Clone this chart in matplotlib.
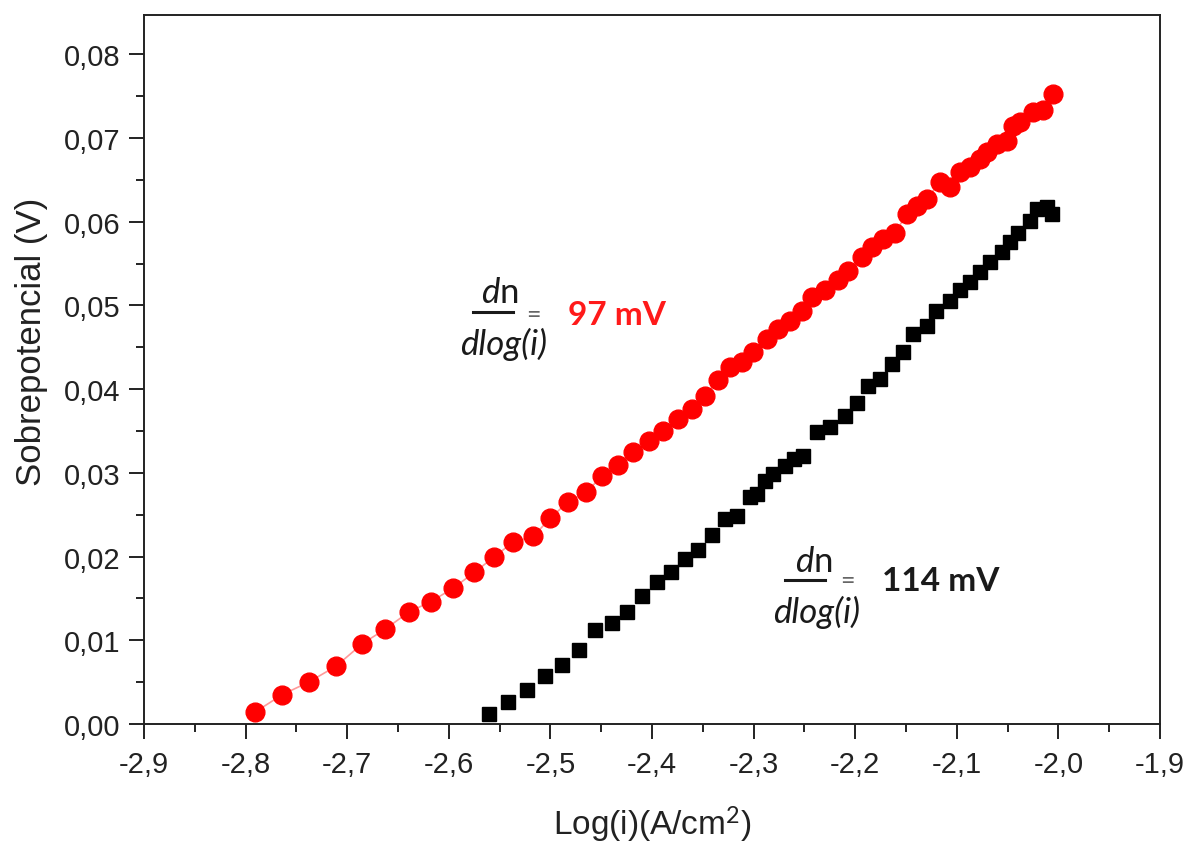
import matplotlib
matplotlib.use('Agg')
import matplotlib.pyplot as plt
from matplotlib.lines import Line2D
from matplotlib.ticker import FuncFormatter, MultipleLocator

# red circles (data in Log(i), V)
red_x = [-2.791, -2.764, -2.738, -2.711, -2.685, -2.663, -2.639, -2.618, -2.596, -2.575,
         -2.556, -2.537, -2.517, -2.500, -2.483, -2.465, -2.449, -2.433, -2.419, -2.403,
         -2.389, -2.374, -2.361, -2.348, -2.335, -2.323, -2.311, -2.301, -2.287, -2.276,
         -2.264, -2.252, -2.243, -2.230, -2.217, -2.207, -2.193, -2.183, -2.173, -2.161,
         -2.149, -2.139, -2.129, -2.117, -2.107, -2.097, -2.087, -2.077, -2.070, -2.060,
         -2.051, -2.045, -2.038, -2.025, -2.015, -2.005]
red_y = [0.0014, 0.0035, 0.0050, 0.0069, 0.0096, 0.0113, 0.0134, 0.0146, 0.0162, 0.0181,
         0.0199, 0.0217, 0.0224, 0.0246, 0.0265, 0.0277, 0.0296, 0.0309, 0.0325, 0.0338,
         0.0350, 0.0364, 0.0376, 0.0392, 0.0411, 0.0427, 0.0433, 0.0445, 0.0460, 0.0472,
         0.0481, 0.0493, 0.0510, 0.0519, 0.0531, 0.0541, 0.0558, 0.0570, 0.0579, 0.0587,
         0.0609, 0.0619, 0.0627, 0.0648, 0.0642, 0.0660, 0.0666, 0.0675, 0.0683, 0.0693,
         0.0696, 0.0714, 0.0719, 0.0731, 0.0734, 0.0753]

# black squares
blk_x = [-2.560, -2.542, -2.523, -2.505, -2.489, -2.472, -2.456, -2.439, -2.425, -2.410,
         -2.395, -2.381, -2.368, -2.355, -2.341, -2.328, -2.316, -2.304, -2.297, -2.289,
         -2.281, -2.269, -2.260, -2.251, -2.238, -2.225, -2.210, -2.198, -2.187, -2.176,
         -2.164, -2.153, -2.143, -2.129, -2.120, -2.107, -2.097, -2.087, -2.077, -2.067,
         -2.056, -2.048, -2.040, -2.028, -2.021, -2.011, -2.006]
blk_y = [0.0012, 0.0026, 0.0041, 0.0057, 0.0070, 0.0088, 0.0112, 0.0121, 0.0134, 0.0153,
         0.0170, 0.0181, 0.0197, 0.0208, 0.0226, 0.0245, 0.0248, 0.0271, 0.0275, 0.0290,
         0.0299, 0.0308, 0.0316, 0.0320, 0.0349, 0.0355, 0.0368, 0.0384, 0.0404, 0.0412,
         0.0430, 0.0444, 0.0466, 0.0475, 0.0493, 0.0505, 0.0519, 0.0528, 0.0540, 0.0552,
         0.0564, 0.0576, 0.0587, 0.0601, 0.0615, 0.0618, 0.0609]

W, H = 1189, 845


def px(x, y):
    return x / W, 1 - y / H


plt.rcParams['font.family'] = 'Liberation Sans'
plt.rcParams['mathtext.fontset'] = 'custom'
plt.rcParams['mathtext.rm'] = 'Lato'
plt.rcParams['mathtext.it'] = 'Lato:italic'

fig = plt.figure(figsize=(W / 100, H / 100), dpi=100)
ax = fig.add_axes([144 / W, 120 / H, 1016 / W, 709 / H])

ax.plot(red_x, red_y, '-', color='#ff9a9a', lw=1.2, marker='o', ms=13.5,
        mfc='#ff0000', mec='#ff0000')
ax.plot(blk_x, blk_y, linestyle='none', marker='s', ms=10.5, mfc='black', mec='black')

ax.set_xlim(-2.9, -1.9)
ax.set_ylim(0, 0.0847)
ax.xaxis.set_major_locator(MultipleLocator(0.1))
ax.xaxis.set_minor_locator(MultipleLocator(0.05))
ax.yaxis.set_major_locator(MultipleLocator(0.01))
ax.yaxis.set_minor_locator(MultipleLocator(0.005))
ax.xaxis.set_major_formatter(FuncFormatter(lambda v, p: f'{v:.1f}'.replace('.', ',')))
ax.yaxis.set_major_formatter(FuncFormatter(lambda v, p: f'{v:.2f}'.replace('.', ',')))

for s in ax.spines.values():
    s.set_linewidth(1.4)
    s.set_color('#222222')
ax.tick_params(which='both', direction='out', width=1.4, color='#222222',
               labelsize=21, labelcolor='#222222')
ax.tick_params(which='major', length=11)
ax.tick_params(which='minor', length=6)
ax.tick_params(axis='x', pad=8)
ax.tick_params(axis='y', pad=6)

ax.set_xlabel(r'Log(i)(A/cm$^2$)', fontsize=24, color='#222222')
ax.set_ylabel('Sobrepotencial (V)', fontsize=25, color='#222222')
ax.xaxis.set_label_coords(0.5, -0.112)
ax.yaxis.set_label_coords(-0.094, 0.54)

# slope annotations
notes = [
    # bar x0, bar x1, bar y, num x, num base, den x, den base, eq x, eq y, val x, val base, text, color
    (473, 513, 313, 481, 303, 460, 355, 526, 316, 568, 325, '97 mV', '#ff1a1a'),
    (785, 825, 581, 795, 572, 773, 623, 840, 582, 882, 591, '114 mV', '#1a1a1a'),
]
for bx0, bx1, by, nx, ny, dx, dy, ex, ey, vx, vy, val, col in notes:
    fig.add_artist(Line2D([bx0 / W, bx1 / W], [1 - by / H, 1 - by / H],
                          transform=fig.transFigure, color='#1a1a1a', lw=2.2))
    fig.text(*px(nx, ny), r'$d\mathrm{n}$', fontsize=25, color='#1a1a1a',
             ha='left', va='baseline')
    fig.text(*px(dx, dy), 'dlog(i)', family='Lato', style='italic', fontsize=25,
             color='#1a1a1a', ha='left', va='baseline')
    fig.text(*px(ex, ey), '=', family='Lato', fontsize=18, color='#666666',
             ha='left', va='center')
    fig.text(*px(vx, vy), val, family='Lato', weight='bold', fontsize=24,
             color=col, ha='left', va='baseline')

fig.savefig('out.png', dpi=100)
